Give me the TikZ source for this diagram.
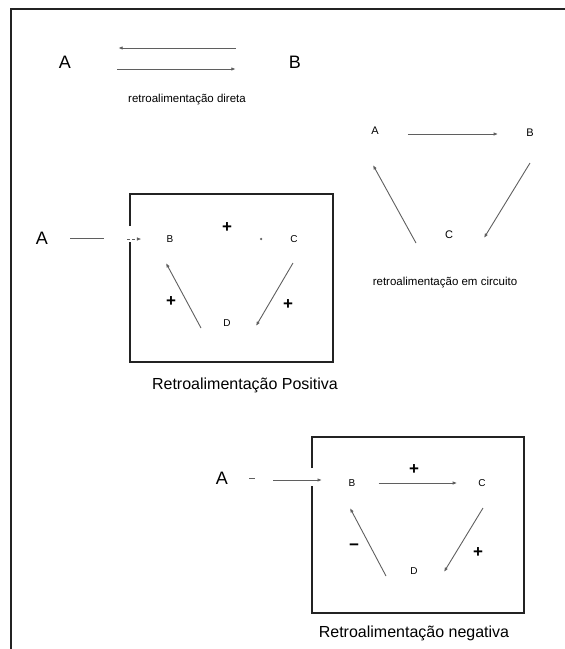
\documentclass[tikz,border=0pt]{standalone}
\usepackage{fontspec}
\setmainfont{Liberation Sans}
\usetikzlibrary{arrows.meta,positioning}

\begin{document}
\begin{tikzpicture}[x=1pt,y=-1pt,
    letter/.style={inner sep=0pt},
    big/.style={letter,font=\fontsize{18}{18}\selectfont},
    mid/.style={letter,font=\fontsize{11}{11}\selectfont},
    small/.style={letter,font=\fontsize{10}{10}\selectfont},
    sign/.style={inner sep=0pt,font=\fontsize{17}{17}\selectfont\bfseries},
    note/.style={font=\fontsize{11.5}{11.5}\selectfont},
    caption/.style={font=\fontsize{16}{16}\selectfont},
    wire/.style={draw=wirec,line width=0.9pt},
    arr/.style={wire,-{Latex[length=4.5pt,width=3.5pt]}},
    box/.style={draw=framec,line width=1.5pt}]
    % Colours
    \definecolor{framec}{RGB}{35,35,35}
    \definecolor{wirec}{RGB}{95,95,95}

    \useasboundingbox (0,0) rectangle (565,649);

    % Page frame (top and left only)
    \draw[framec, line width=2.5pt] (565,9) -- (11,9) -- (11,649);

    % Direct feedback
    \node[big] (dA) at (65,62) {A};
    \node[big] (dB) at (295,62) {B};
    \draw[arr, shorten <=53pt, shorten >=47pt] ([yshift=14]dB.west) -- ([yshift=14]dA.east);
    \draw[arr, shorten <=46pt, shorten >=53pt] ([yshift=-7]dA.east) -- ([yshift=-7]dB.west);
    \node[note] (dText) at (187,100) {retroalimentação direta};

    % Circuit feedback
    \node[mid] (cA) at (375,131) {A};
    \node[mid] (cB) at (530,133) {B};
    \node[mid] (cC) at (449,235) {C};
    \draw[arr, shorten <=29pt, shorten >=28pt] ([yshift=-3]cA.east) -- ([yshift=-1]cB.west);
    \draw[arr] ([shift={(0,30)}]cB.center) -- ([shift={(35,3)}]cC.center);
    \draw[arr] ([shift={(-33,8)}]cC.center) -- ([shift={(-2,34)}]cA.center);
    \node[note] (cText) at (445,283) {retroalimentação em circuito};

    % Positive feedback box
    \draw[box] (130,226) -- (130,194) -- (333,194) -- (333,362) -- (130,362) -- (130,242);
    \node[big] (pA) at (42,238) {A};
    \node[small] (pB) at (170,239) {B};
    \node[small] (pC) at (294,239) {C};
    \node[small] (pD) at (227,323) {D};
    \draw[wire] ([xshift=22]pA.east) -- ++(34,0);
    \draw[arr, dash pattern=on 3pt off 2pt] ([xshift=-39]pB.west) -- ([xshift=-25]pB.west);
    \fill[wirec] ([xshift=-29]pC.west) circle (1.3pt);
    \draw[arr] ([shift={(-26,5)}]pD.center) -- ([shift={(-4,24)}]pB.center);
    \draw[arr] ([shift={(-1,24)}]pC.center) -- ([shift={(29,3)}]pD.center);
    \node[sign] (pS1) at (227,228) {+};
    \node[sign] (pS2) at (171,302) {+};
    \node[sign] (pS3) at (288,305) {+};
    \node[caption] (pText) at (245,385) {Retroalimentação Positiva};

    % Negative feedback box
    \draw[box] (312,468) -- (312,437) -- (524,437) -- (524,613) -- (312,613) -- (312,486);
    \node[big] (nA) at (222,478) {A};
    \node[small] (nB) at (352,483) {B};
    \node[small] (nC) at (482,483) {C};
    \node[small] (nD) at (414,571) {D};
    \draw[wire] ([xshift=21]nA.east) -- ++(6,0);
    \draw[arr] ([shift={(45,2)}]nA.east) -- ([shift={(-30,-3)}]nB.center);
    \draw[arr, shorten <=23pt, shorten >=21pt] (nB) -- (nC);
    \draw[arr] ([shift={(1,25)}]nC.center) -- ([shift={(30,1)}]nD.center);
    \draw[arr] ([shift={(-28,5)}]nD.center) -- ([shift={(-2,25)}]nB.center);
    \node[sign] (nS1) at (414,470) {+};
    \node[sign] (nS2) at (478,553) {+};
    \node[sign] (nS3) at (354,547) {−};
    \node[caption] (nText) at (414,633) {Retroalimentação negativa};
\end{tikzpicture}
\end{document}
